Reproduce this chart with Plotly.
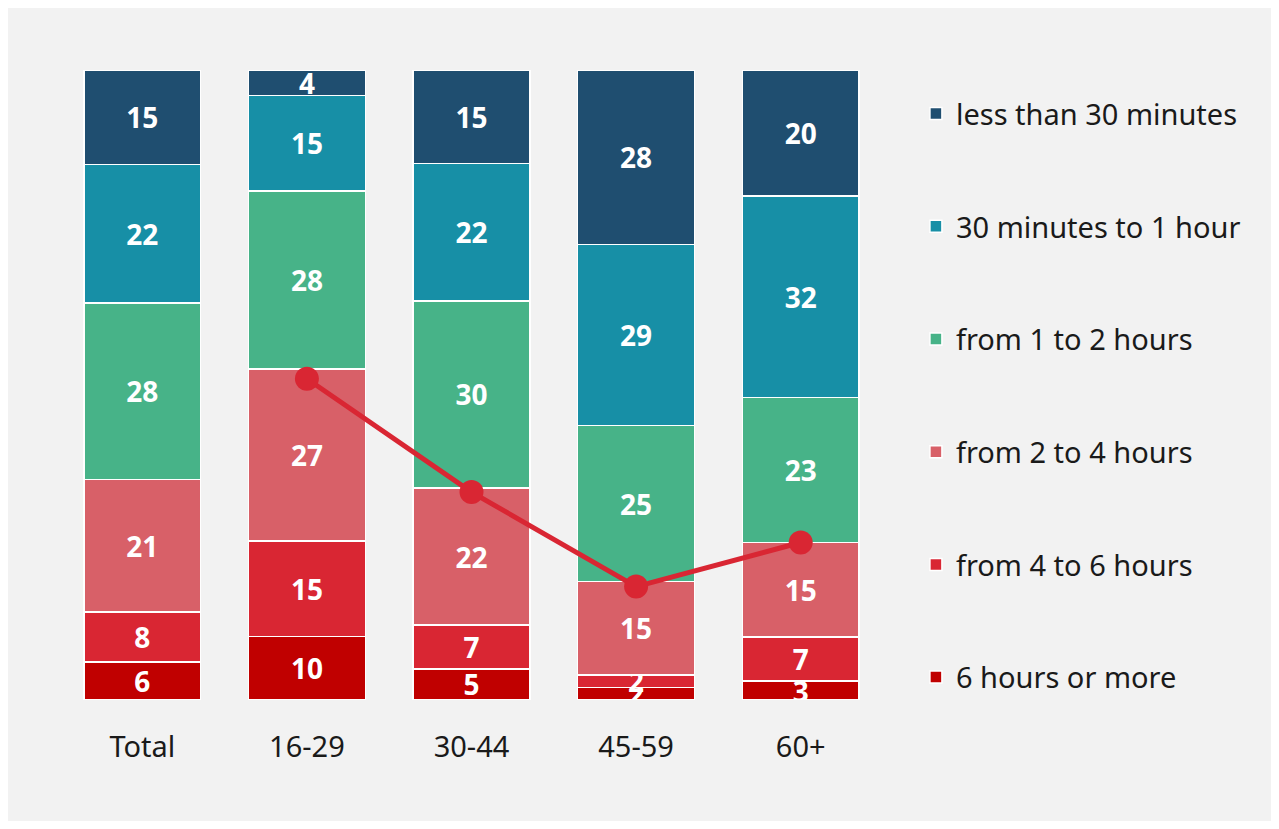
import plotly.graph_objects as go

# age groups on the x axis
groups = ['Total', '16-29', '30-44', '45-59', '60+']

# share of respondents per category (bottom of the stack first)
series_names = [
    '6 hours or more',
    'from 4 to 6 hours',
    'from 2 to 4 hours',
    'from 1 to 2 hours',
    '30 minutes to 1 hour',
    'less than 30 minutes',
]
six_plus = [6, 10, 5, 2, 3]
four_to_six = [8, 15, 7, 2, 7]
two_to_four = [21, 27, 22, 15, 15]
one_to_two = [28, 28, 30, 25, 23]
half_to_one = [22, 15, 22, 29, 32]
under_half = [15, 4, 15, 28, 20]

# red line drawn over the age groups (no point for Total)
line_groups = ['16-29', '30-44', '45-59', '60+']
line_values = [51, 33, 18, 25]

colors = ['#c00000', '#d92633', '#d86068', '#47b388', '#178fa6', '#1f4e70']
series_values = [six_plus, four_to_six, two_to_four, one_to_two, half_to_one, under_half]

FONT = 'Noto Sans, Open Sans, sans-serif'

fig = go.Figure()

for i, (name, vals, col) in enumerate(zip(series_names, series_values, colors)):
    fig.add_trace(
        go.Bar(
            x=groups,
            y=vals,
            name=name,
            legendgroup=name,
            legendrank=len(series_names) - i,  # top of the stack first in legend
            marker=dict(color=col, line=dict(color='white', width=1.5)),
            text=vals,
            texttemplate='%{text}',
            textposition='inside',
            insidetextanchor='middle',
            constraintext='none',
            textangle=0,
            textfont=dict(family=FONT, size=28, color='white', weight='bold'),
            hoverinfo='name+y',
        )
    )

fig.add_trace(
    go.Scatter(
        x=line_groups,
        y=line_values,
        mode='lines+markers',
        line=dict(color='#d92633', width=5),
        marker=dict(color='#d92633', size=24),
        showlegend=False,
        hoverinfo='y',
    )
)

fig.update_layout(
    width=1264,
    height=813,
    margin=dict(l=51.5, r=388.5, t=62, b=121),
    barmode='stack',
    barnorm='percent',
    bargap=0.29,
    paper_bgcolor='#f2f2f2',
    plot_bgcolor='#f2f2f2',
    font=dict(family=FONT, size=29, color='#1a1a1a'),
    showlegend=True,
    legend=dict(
        traceorder='grouped',
        tracegroupgap=72,
        x=1.04,
        xanchor='left',
        y=0.971,
        yanchor='top',
        bgcolor='rgba(0,0,0,0)',
        font=dict(family=FONT, size=29, color='#1a1a1a'),
    ),
    xaxis=dict(
        showgrid=False,
        showline=False,
        zeroline=False,
        ticks='outside',
        ticklen=21,
        tickcolor='rgba(0,0,0,0)',
        tickfont=dict(family=FONT, size=29, color='#1a1a1a'),
    ),
    yaxis=dict(
        range=[0, 100],
        visible=False,
        showgrid=False,
        zeroline=False,
    ),
)

fig.write_html('out.html')
